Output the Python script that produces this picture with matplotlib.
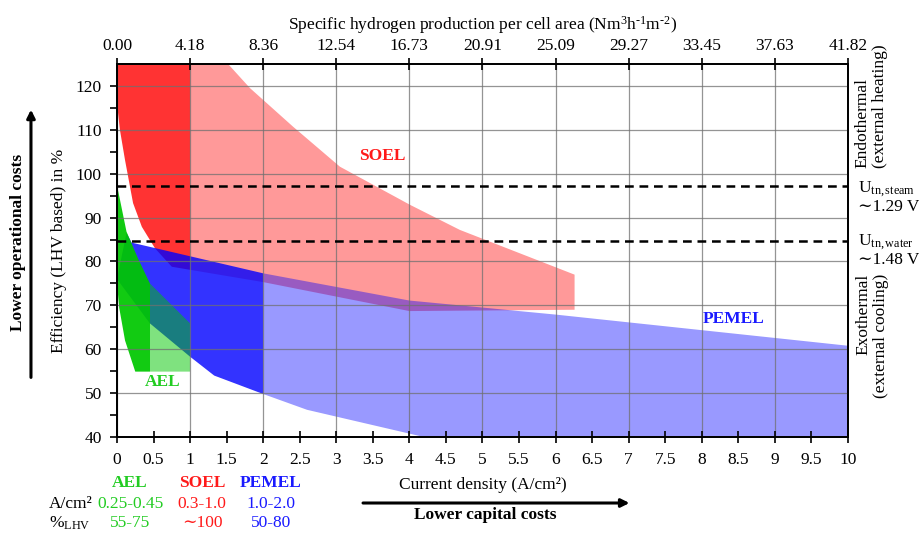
import numpy as np
import matplotlib
matplotlib.use('Agg')
import matplotlib.pyplot as plt
from matplotlib.patches import Polygon, Rectangle, FancyArrowPatch

plt.rcParams['font.family'] = ['Liberation Serif', 'DejaVu Serif']
plt.rcParams['mathtext.fontset'] = 'custom'
plt.rcParams['mathtext.rm'] = 'Liberation Serif'
plt.rcParams['mathtext.it'] = 'Liberation Serif:italic'
plt.rcParams['mathtext.bf'] = 'Liberation Serif:bold'

# ── data (current density in A/cm2, efficiency in % LHV) ─────────────────────
soel_j = [0.0, 1.52, 1.82, 2.41, 3.05, 4.01, 4.69, 6.26, 6.26, 4.0, 2.0, 0.75,
          0.52, 0.34, 0.22, 0.11, 0.04, 0.0]
soel_eff = [125, 125, 119.5, 110.7, 101.6, 92.9, 87.2, 77.0, 69.0, 68.7, 75.3,
            78.8, 83.0, 87.9, 93.3, 103.1, 110.0, 116.0]

pemel_j = [0.13, 0.2, 2.0, 4.0, 6.0, 10.0, 10.0, 4.2, 2.6, 2.0, 1.33, 1.0,
           0.45, 0.0]
pemel_eff = [86.5, 84.3, 77.3, 71.1, 67.9, 60.8, 40.0, 40.0, 46.2, 49.8, 54.0,
             58.3, 65.9, 76.0]

ael_j = [0.0, 0.13, 0.29, 0.45, 1.0, 1.0, 0.25, 0.11, 0.03, 0.0]
ael_eff = [97.4, 86.8, 80.6, 75.0, 65.9, 54.9, 54.9, 62.0, 69.5, 75.0]

# typical operating ranges (table below the plot)
techs = ['AEL', 'SOEL', 'PEMEL']
j_ranges = ['0.25-0.45', '0.3-1.0', '1.0-2.0']
eff_ranges = ['55-75', '\u223c100', '50-80']
j_upper = [0.45, 1.0, 2.0]

u_tn_steam = 97.2
u_tn_water = 84.7

bottom_ticks = np.arange(0, 10.5, 0.5)
bottom_labels = ['0', '0.5', '1', '1.5', '2', '2.5', '3', '3.5', '4', '4.5', '5',
                 '5.5', '6', '6.5', '7', '7.5', '8', '8.5', '9', '9.5', '10']
top_ticks = np.arange(0, 11, 1)
top_labels = ['0.00', '4.18', '8.36', '12.54', '16.73', '20.91', '25.09',
              '29.27', '33.45', '37.63', '41.82']

col_red, col_blue, col_green = (1, 0, 0), (0, 0, 1), (0, 0.78, 0)
txt_red, txt_blue, txt_green = '#ff1a1a', '#1a1aff', '#22cc22'
FS = 12.5
W, H = 919, 537

# ── figure ───────────────────────────────────────────────────────────────────
fig = plt.figure(figsize=(9.19, 5.37), dpi=100, facecolor='white')
ax = fig.add_axes([0.1273, 0.1862, 0.7954, 0.6946])
ax.set_xlim(0, 10)
ax.set_ylim(40, 125)


def add_region(xs, ys, color, x_split, a_dark, a_light):
    # whole band in the light shade, typical range (x <= x_split) in the dark shade
    pts = np.column_stack([xs, ys])
    dark = Polygon(pts, closed=True, facecolor=color, alpha=a_dark, lw=0, zorder=1)
    light = Polygon(pts, closed=True, facecolor=color, alpha=a_light, lw=0, zorder=1)
    ax.add_patch(dark)
    ax.add_patch(light)
    dark.set_clip_path(Rectangle((-1, 0), x_split + 1, 200, transform=ax.transData))
    light.set_clip_path(Rectangle((x_split, 0), 20, 200, transform=ax.transData))


add_region(soel_j, soel_eff, col_red, j_upper[1], 0.8, 0.4)
add_region(pemel_j, pemel_eff, col_blue, j_upper[2], 0.8, 0.4)
add_region(ael_j, ael_eff, col_green, j_upper[0], 0.93, 0.5)

for yv in [u_tn_steam, u_tn_water]:
    ax.axhline(yv, color='black', lw=1.8, dashes=(3.5, 2.3), zorder=4)

ax.text(3.63, 104.0, 'SOEL', color=txt_red, fontsize=FS, fontweight='bold',
        ha='center', va='center', zorder=5)
ax.text(8.44, 66.9, 'PEMEL', color=txt_blue, fontsize=FS, fontweight='bold',
        ha='center', va='center', zorder=5)
ax.text(0.63, 52.6, 'AEL', color=txt_green, fontsize=FS, fontweight='bold',
        ha='center', va='center', zorder=5)

# ── axes styling ─────────────────────────────────────────────────────────────
ax.set_axisbelow(False)
ax.grid(True, color='#707070', lw=0.9, alpha=0.75)
ax.set_yticks(np.arange(40, 121, 10))
ax.set_yticks(np.arange(45, 125, 5), minor=True)
ax.set_xticks(bottom_ticks)
ax.set_xticklabels(bottom_labels)
ax.xaxis.grid(False)
for xv in top_ticks:
    ax.axvline(xv, color='#707070', lw=0.9, alpha=0.75, zorder=2.5)
ax.tick_params(axis='x', direction='inout', length=8, width=1.2, labelsize=FS, pad=7)
ax.tick_params(axis='y', which='both', direction='out', length=5, width=1.2,
               labelsize=FS, pad=6)
for s in ax.spines.values():
    s.set_linewidth(1.3)
ax.set_ylabel('Efficiency (LHV based) in %', fontsize=FS, labelpad=6)

ax2 = ax.twiny()
ax2.set_xlim(0, 10)
ax2.set_xticks(top_ticks)
ax2.set_xticklabels(top_labels)
ax2.tick_params(axis='x', direction='inout', length=8, width=1.2, labelsize=FS, pad=3)
ax2.set_xlabel('Specific hydrogen production per cell area '
               '(Nm$^{3}$h$^{\\text{-1}}$m$^{\\text{-2}}$)', fontsize=FS, labelpad=6)
for s in ax2.spines.values():
    s.set_linewidth(1.3)

# ── right-hand annotations ───────────────────────────────────────────────────
fig.text(862 / W, 1 - 168 / H, 'Endothermal', rotation=90, fontsize=FS,
         ha='center', va='bottom')
fig.text(880 / W, 1 - 168 / H, '(external heating)', rotation=90, fontsize=FS,
         ha='center', va='bottom')
fig.text(863 / W, 1 - 274 / H, 'Exothermal', rotation=90, fontsize=FS,
         ha='center', va='top')
fig.text(881 / W, 1 - 274 / H, '(external cooling)', rotation=90, fontsize=FS,
         ha='center', va='top')
fig.text(858 / W, 0.633, 'U$_{\\rm tn,steam}$\n\u223c1.29 V', fontsize=FS,
         ha='left', va='center', linespacing=1.0)
fig.text(858 / W, 0.534, 'U$_{\\rm tn,water}$\n\u223c1.48 V', fontsize=FS,
         ha='left', va='center', linespacing=1.0)

# left: operational cost arrow
fig.text(0.0196, 0.549, 'Lower operational costs', rotation=90, fontsize=FS,
         fontweight='bold', ha='center', va='center')
fig.patches.append(FancyArrowPatch(
    (0.0337, 0.292), (0.0337, 0.801), transform=fig.transFigure,
    arrowstyle='-|>', mutation_scale=12, lw=2.2, color='black'))

# bottom: current density label, capital cost arrow
fig.text(0.5255, 0.097, 'Current density (A/cm\u00b2)', fontsize=FS,
         ha='center', va='center')
fig.patches.append(FancyArrowPatch(
    (0.392, 0.0633), (0.688, 0.0633), transform=fig.transFigure,
    arrowstyle='-|>', mutation_scale=12, lw=2.2, color='black'))
fig.text(0.528, 0.041, 'Lower capital costs', fontsize=FS, fontweight='bold',
         ha='center', va='center')

# ── table of typical operating ranges ────────────────────────────────────────
col_x = [130, 202, 271]
tcols = [txt_green, txt_red, txt_blue]
for name, jr, er, cx, c in zip(techs, j_ranges, eff_ranges, col_x, tcols):
    fig.text(cx / W, 1 - 483 / H, name, color=c, fontsize=FS, fontweight='bold',
             ha='center', va='center')
    fig.text(cx / W, 1 - 504 / H, jr, color=c, fontsize=FS, ha='center', va='center')
    fig.text(cx / W, 1 - 523 / H, er, color=c, fontsize=FS, ha='center', va='center')
fig.text(93 / W, 1 - 504 / H, 'A/cm\u00b2', fontsize=FS, ha='right', va='center')
fig.text(90 / W, 1 - 523 / H, '%$_{\\rm LHV}$', fontsize=FS, ha='right', va='center')

fig.savefig('out.png', dpi=100, facecolor='white')
